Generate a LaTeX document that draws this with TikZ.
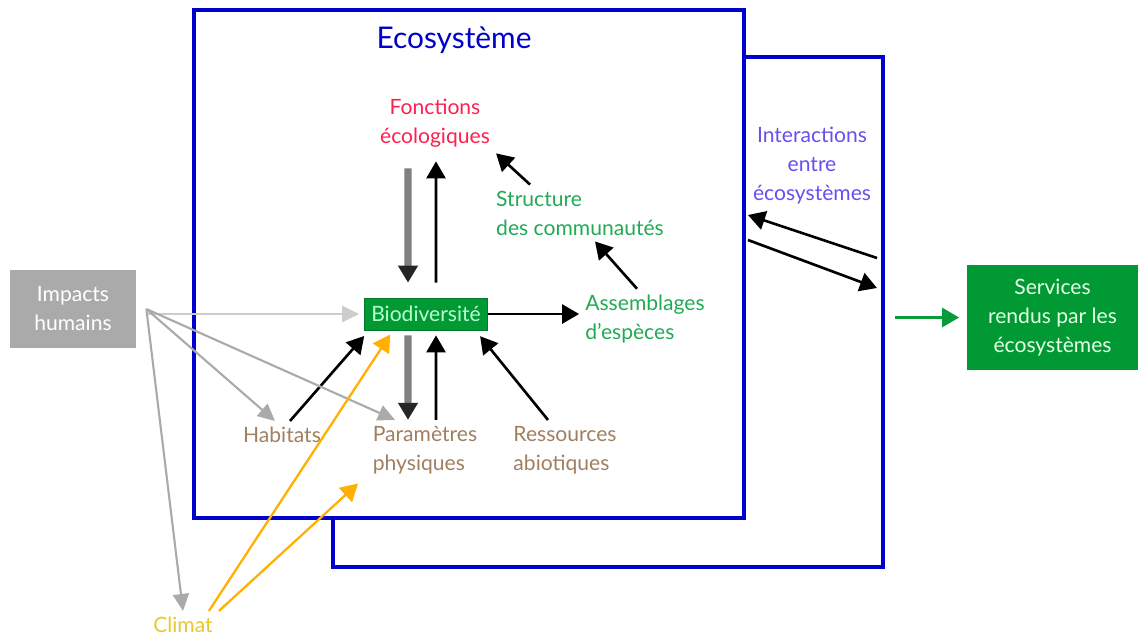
\documentclass[tikz,border=0pt]{standalone}
\usepackage{fontspec}
\setmainfont{Lato}
\usepackage{xcolor}
\usetikzlibrary{
    arrows.meta,
    positioning
}
\definecolor{ecoblue}{HTML}{0000CC}
\definecolor{ecored}{HTML}{FF2050}
\definecolor{ecogreen}{HTML}{22AA55}
\definecolor{darkgreen}{HTML}{009933}
\definecolor{lightgreen}{HTML}{B8FFD0}
\definecolor{ecobrown}{HTML}{A08060}
\definecolor{ecopurple}{HTML}{6650EE}
\definecolor{impactgray}{HTML}{AAAAAA}
\definecolor{ecoyellow}{HTML}{E8C830}
\definecolor{climorange}{HTML}{FFB000}

\begin{document}
\begin{tikzpicture}[
    every node/.style={font=\fontsize{12}{16.5}\selectfont, align=left},
    ecobox/.style={draw=ecoblue, line width=2.6pt, fill=white, minimum width=11cm},
    bigtip/.style={-{Triangle[length=3.4mm,width=3.8mm]}, line width=1.5pt},
    graytip/.style={-{Triangle[length=3.4mm,width=3.8mm,color=black!85]}, line width=4pt, gray},
    thintip/.style={-{Triangle[length=3.4mm,width=3.2mm]}, line width=1.2pt, impactgray}
]
                        \useasboundingbox (0, 0) rectangle (22.86, -12.86);
                        \node[ecobox, minimum height=10.2cm] (back) at (12.16, -6.24) {};
                        \node[ecobox, minimum height=10.16cm] (front) at (9.38, -5.28) {};
                        \node[text=ecoblue, font=\fontsize{17}{20}\selectfont] (title) at (9.08, -0.8) {Ecosystème};
                        \node[text=ecored, align=center] (fonc) at (8.7, -2.46) {Fonctions\\écologiques};
                        \node[text=ecogreen] (struc) at (11.6, -4.26) {Structure\\des communautés};
                        \node[fill=darkgreen, draw=darkgreen!80!black, text=lightgreen, inner sep=2pt, minimum width=2.46cm, minimum height=0.64cm] (bio) at (8.52, -6.28) {Biodiversité};
                        \node[text=ecogreen] (assem) at (12.9, -6.38) {Assemblages\\d'espèces};
                        \node[text=ecobrown] (hab) at (5.64, -8.7) {Habitats};
                        \node[text=ecobrown] (param) at (8.5, -9.0) {Paramètres\\physiques};
                        \node[text=ecobrown] (ress) at (11.3, -9.0) {Ressources\\abiotiques};
                        \node[text=ecopurple, align=center] (inter) at (16.24, -3.32) {Interactions\\entre\\écosystèmes};
                        \node[fill=impactgray, text=white, align=center, minimum width=2.52cm, minimum height=1.56cm] (impact) at (1.46, -6.18) {Impacts\\humains};
                        \node[text=ecoyellow] (climat) at (3.66, -12.5) {Climat};
                        \node[fill=darkgreen, text=white!90!green, align=center, minimum width=3.42cm, minimum height=2.1cm] (serv) at (21.05, -6.35) {Services\\rendus par les\\écosystèmes};
                        % inside the ecosystem
                        \draw[graytip, shorten <=3mm, shorten >=3mm] ([xshift=-5.4mm]fonc.south) -- ([xshift=-3.6mm]bio.north);
                        \draw[bigtip, shorten <=3mm, shorten >=1.6mm] ([xshift=2mm]bio.north) -- ([xshift=0.2mm]fonc.south);
                        \draw[bigtip] ([xshift=8mm]struc.north west) -- (fonc.south east);
                        \draw[bigtip] ([xshift=-1.6mm]assem.north) -- ([xshift=3mm]struc.south);
                        \draw[bigtip] (bio.east) -- (bio.east -| assem.west);
                        \draw[graytip, shorten <=1mm] ([xshift=-3.6mm]bio.south) -- ([xshift=-3.4mm]param.north);
                        \draw[bigtip, shorten >=1mm] ([xshift=2.2mm]param.north) -- ([xshift=2mm]bio.south);
                        \draw[bigtip, shorten >=1.5mm] ([xshift=-3.4mm]ress.north) -- ([xshift=-2.5mm]bio.south east);
                        \draw[bigtip, shorten >=1.5mm] ([xshift=1.6mm]hab.north) -- ([xshift=1mm]bio.south west);
                        % human impacts
                        \coordinate (hub) at ([xshift=2mm]impact.east);
                        \draw[thintip, impactgray!60, shorten >=1mm] (hub |- bio.west) -- (bio.west);
                        \draw[thintip] (hub) -- ([xshift=-1.4mm]hab.north);
                        \draw[thintip] (hub) -- ([xshift=-0.6cm]param.north);
                        \draw[thintip] (hub) -- (climat.north);
                        % climate
                        \draw[bigtip, climorange, line width=1.3pt, shorten >=1mm] ([xshift=-2mm]climat.north east) -- ([xshift=-0.66cm]bio.south);
                        \draw[bigtip, climorange, line width=1.3pt, shorten >=1mm] ([xshift=0mm]climat.north east) -- ([xshift=-1mm]param.south west);
                        % between ecosystems
                        \coordinate (in1) at (17.54, -5.16);
                        \coordinate (out1) at (14.96, -4.3);
                        \coordinate (in2) at (14.96, -4.8);
                        \coordinate (out2) at (17.54, -5.76);
                        \draw[bigtip] (in1) -- (out1);
                        \draw[bigtip] (in2) -- (out2);
                        \draw[bigtip, darkgreen!80!ecogreen, shorten <=2mm, shorten >=1.5mm] (back.east |- serv.west) -- (serv.west);
\end{tikzpicture}
\end{document}
